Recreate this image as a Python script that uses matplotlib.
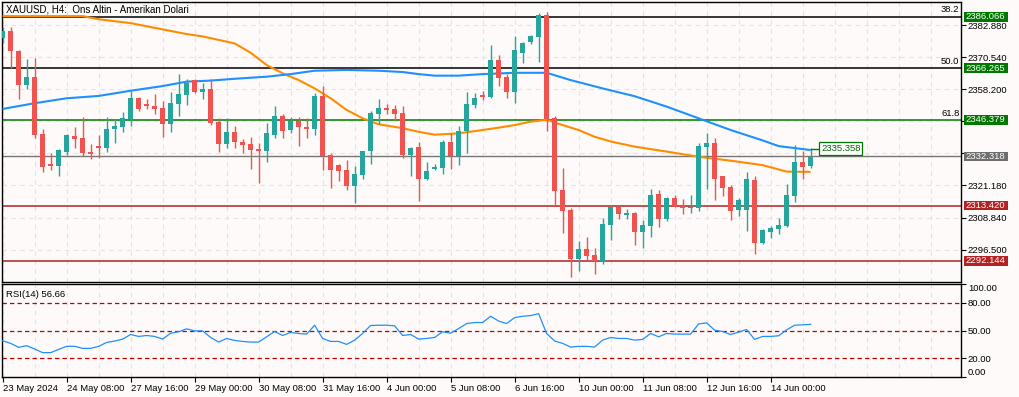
import matplotlib
matplotlib.use("Agg")
import matplotlib.pyplot as plt
from matplotlib.patches import Rectangle
import matplotlib.transforms as mtrans

plt.rcParams['font.family'] = ['Liberation Sans', 'DejaVu Sans']

# ---------------- data ----------------
opens = [2377.7, 2380.5, 2372.8, 2359.7, 2363.0, 2341.0, 2329.3, 2328.8, 2334.2, 2340.2,
         2339.5, 2334.0, 2336.5, 2335.7, 2342.7, 2343.8, 2346.8, 2354.9, 2352.6, 2351.8,
         2351.0, 2344.9, 2352.6, 2356.0, 2361.6, 2357.3, 2358.4, 2345.6, 2337.1, 2341.8,
         2337.9, 2337.1, 2335.2, 2334.4, 2340.6, 2348.0, 2342.5, 2346.1, 2343.8, 2342.9,
         2355.7, 2332.9, 2329.0, 2327.1, 2320.9, 2325.1, 2334.4, 2348.7, 2351.0, 2350.7,
         2349.1, 2332.9, 2336.0, 2323.6, 2327.5, 2327.9, 2337.9, 2332.5, 2342.2, 2352.2,
         2356.0, 2355.3, 2369.6, 2363.0, 2357.2, 2372.3, 2376.2, 2378.1, 2386.6, 2347.2,
         2319.4, 2311.6, 2292.7, 2296.6, 2294.6, 2292.3, 2305.8, 2312.8, 2309.7, 2310.5,
         2303.3, 2305.6, 2317.8, 2308.2, 2316.3, 2313.2, 2312.4, 2312.4, 2336.0, 2337.5,
         2324.8, 2320.5, 2311.6, 2311.6, 2323.2, 2298.9, 2303.1, 2304.3, 2305.4, 2317.0,
         2330.2, 2328.6]
highs = [2382.0, 2382.0, 2373.2, 2369.7, 2370.0, 2342.9, 2333.7, 2335.2, 2341.0, 2343.7,
         2347.5, 2337.0, 2340.6, 2347.6, 2346.8, 2349.6, 2357.6, 2355.2, 2354.3, 2356.4,
         2353.7, 2357.1, 2364.2, 2362.0, 2362.0, 2360.7, 2362.0, 2347.2, 2347.2, 2344.1,
         2339.1, 2339.8, 2337.5, 2345.3, 2351.8, 2348.7, 2347.6, 2347.6, 2347.2, 2356.8,
         2359.5, 2333.7, 2329.4, 2330.9, 2328.6, 2334.6, 2349.9, 2354.5, 2352.6, 2352.2,
         2351.8, 2336.0, 2337.9, 2330.2, 2329.4, 2338.7, 2341.4, 2344.1, 2357.2, 2356.8,
         2357.6, 2375.0, 2371.5, 2364.2, 2378.5, 2376.2, 2379.2, 2387.4, 2387.7, 2347.9,
         2327.9, 2312.4, 2300.0, 2301.2, 2297.3, 2308.5, 2313.0, 2313.3, 2312.0, 2310.8,
         2307.8, 2319.7, 2319.4, 2316.7, 2317.4, 2315.9, 2317.4, 2337.5, 2341.4, 2339.4,
         2325.0, 2321.3, 2316.3, 2326.3, 2324.8, 2304.3, 2305.4, 2308.5, 2321.7, 2336.7,
         2334.4, 2335.4]
lows = [2376.0, 2366.4, 2354.5, 2358.4, 2339.6, 2326.4, 2327.2, 2324.9, 2333.0, 2335.7,
        2332.5, 2331.5, 2331.9, 2334.0, 2337.5, 2341.9, 2344.2, 2350.0, 2350.7, 2348.7,
        2340.0, 2341.9, 2347.7, 2352.3, 2356.8, 2354.3, 2344.5, 2334.2, 2335.7, 2335.7,
        2333.8, 2327.6, 2322.2, 2330.3, 2339.4, 2339.4, 2341.4, 2336.4, 2339.4, 2340.6,
        2327.1, 2320.1, 2322.8, 2319.4, 2314.3, 2323.6, 2329.4, 2344.9, 2348.7, 2346.4,
        2331.9, 2324.9, 2315.1, 2323.2, 2327.1, 2325.5, 2327.5, 2329.0, 2333.7, 2351.0,
        2354.1, 2355.0, 2359.5, 2354.9, 2353.0, 2368.4, 2375.4, 2368.8, 2342.2, 2313.6,
        2302.7, 2286.1, 2288.4, 2292.3, 2287.3, 2291.1, 2300.2, 2308.2, 2308.2, 2298.1,
        2297.3, 2301.2, 2305.1, 2307.4, 2312.8, 2310.1, 2310.5, 2311.2, 2319.7, 2315.5,
        2317.0, 2307.8, 2309.3, 2303.5, 2295.0, 2298.5, 2300.8, 2302.4, 2305.1, 2314.7,
        2323.6, 2327.9]
closes = [2380.5, 2372.8, 2359.9, 2363.0, 2340.6, 2328.4, 2328.8, 2334.7, 2340.4, 2339.2,
          2333.8, 2333.3, 2335.7, 2342.9, 2344.2, 2347.2, 2354.9, 2350.4, 2351.6, 2350.7,
          2344.9, 2353.0, 2356.4, 2360.7, 2357.1, 2358.4, 2345.3, 2337.1, 2341.8, 2338.0,
          2336.9, 2334.9, 2334.5, 2341.4, 2348.0, 2342.2, 2346.1, 2343.7, 2342.9, 2355.7,
          2332.4, 2327.1, 2326.7, 2320.9, 2325.5, 2334.4, 2349.1, 2351.0, 2350.3, 2348.7,
          2332.9, 2335.6, 2323.6, 2326.7, 2328.3, 2337.9, 2332.5, 2342.2, 2352.6, 2354.9,
          2355.3, 2369.6, 2362.6, 2357.2, 2373.1, 2375.8, 2378.5, 2386.6, 2346.8, 2319.0,
          2311.2, 2292.7, 2296.6, 2294.2, 2292.3, 2306.2, 2312.8, 2310.1, 2310.5, 2303.3,
          2305.8, 2317.4, 2308.2, 2316.3, 2313.2, 2312.4, 2312.8, 2336.4, 2337.5, 2323.6,
          2320.1, 2311.2, 2315.5, 2323.6, 2298.9, 2303.9, 2304.7, 2305.8, 2317.4, 2330.2,
          2328.3, 2332.3]

ma_fast_idx = [0, 10, 12, 16, 20, 23, 25, 29, 31, 33, 35, 37, 39, 41, 43, 45, 47, 50, 52, 54,
               57, 60, 62, 64, 66, 68, 70, 72, 74, 76, 79, 83, 87, 91, 95, 98, 101]
ma_fast_val = [2386.3, 2386.3, 2385.1, 2383.6, 2381.2, 2379.4, 2378.5, 2375.8, 2372.2, 2367.5,
               2364.3, 2361.7, 2358.5, 2354.7, 2350.2, 2347.0, 2344.7, 2343.2, 2341.8, 2340.7,
               2341.2, 2342.5, 2343.4, 2344.4, 2345.7, 2346.4, 2344.4, 2342.5, 2339.9, 2338.1,
               2336.1, 2334.2, 2332.2, 2330.7, 2329.0, 2326.5, 2326.4]
ma_slow_idx = [0, 4, 8, 12, 16, 20, 23, 26, 29, 33, 36, 39, 43, 47, 50, 52, 54, 57, 60, 64,
               68, 71, 75, 79, 83, 87, 91, 95, 97, 101]
ma_slow_val = [2350.6, 2352.8, 2354.7, 2355.6, 2357.6, 2359.4, 2361.1, 2361.5, 2362.2, 2363.0,
               2364.0, 2365.3, 2365.6, 2365.3, 2364.8, 2364.0, 2363.4, 2363.4, 2364.0, 2364.5,
               2364.5, 2361.7, 2358.5, 2355.5, 2351.5, 2347.0, 2342.5, 2338.5, 2336.3, 2334.8]

rsi = [38.9, 36.1, 31.8, 33.6, 30.0, 26.1, 26.1, 29.6, 32.9, 32.9,
       30.7, 30.7, 32.9, 37.1, 38.6, 40.7, 45.7, 43.6, 44.6, 43.6,
       40.7, 47.1, 48.6, 51.8, 49.6, 49.6, 42.5, 37.5, 41.4, 39.3,
       38.2, 37.5, 37.5, 43.2, 48.9, 44.6, 47.9, 46.8, 46.1, 55.7,
       41.4, 38.2, 38.2, 35.0, 39.6, 46.8, 55.4, 55.7, 55.7, 55.0,
       44.6, 45.7, 40.7, 41.4, 42.5, 48.6, 47.1, 52.1, 57.5, 58.6,
       58.6, 65.4, 60.2, 57.5, 63.9, 65.4, 66.1, 68.2, 46.8, 38.6,
       36.1, 32.1, 32.9, 32.9, 32.1, 39.6, 42.5, 41.4, 41.4, 39.6,
       40.4, 46.8, 43.2, 46.8, 46.1, 46.1, 46.1, 57.1, 58.2, 50.4,
       48.9, 45.7, 48.2, 51.1, 40.4, 43.6, 43.6, 44.3, 50.7, 55.7,
       56.1, 56.66]

fib_levels = [2386.066, 2366.265, 2346.379]
fib_labels = ["38.2", "50.0", "61.8"]
fib_colors = ['#000000', '#000000', '#007800']
sr_levels = [2313.420, 2292.144]
bid_price = 2332.318
marker_price = 2335.358

price_ticks = [2382.880, 2370.540, 2358.200, 2345.860, 2333.520, 2321.180, 2308.840, 2296.500]
hidden_ticks = [2345.860, 2333.520]   # covered by value boxes in the reference
rsi_ticks = [0, 20, 50, 80, 100]
x_tick_pos = [0, 8, 16, 24, 32, 40, 48, 56, 64, 72, 80, 88, 96]
x_tick_labels = ["23 May 2024", "24 May 08:00", "27 May 16:00", "29 May 00:00", "30 May 08:00",
                 "31 May 16:00", "4 Jun 00:00", "5 Jun 08:00", "6 Jun 16:00", "10 Jun 00:00",
                 "11 Jun 08:00", "12 Jun 16:00", "14 Jun 00:00"]
title = "XAUUSD, H4:  Ons Altin - Amerikan Dolari"
rsi_title = "RSI(14) 56.66"

# ---------------- figure ----------------
W, H = 1019, 397
BG = '#FDFAF9'
fig = plt.figure(figsize=(W / 100, H / 100), dpi=100, facecolor=BG)

def fx(px):
    return px / W

def fy(py):
    return 1 - py / H

left_px, right_px = 2, 961
main_top, main_bot = 2, 282
rsi_top, rsi_bot = 284.2, 376.8

ax = fig.add_axes([fx(left_px), fy(main_bot), fx(right_px - left_px), (main_bot - main_top) / H])
ax2 = fig.add_axes([fx(left_px), fy(rsi_bot), fx(right_px - left_px), (rsi_bot - rsi_top) / H],
                   sharex=ax)
for a in (ax, ax2):
    a.set_facecolor(BG)
    for s in a.spines.values():
        s.set_color('black')
        s.set_linewidth(1.0)

n = len(closes)
xs = list(range(n))
xmin, xmax = -0.08, 119.8
ax.set_xlim(xmin, xmax)
ax.set_ylim(2284.04, 2391.73)
ax2.set_ylim(0, 100)

# grid
grid_kw = dict(color='#E6E2E2', lw=0.8, ls=(0, (4, 4)), zorder=0)
for g in range(0, 120, 4):
    ax.axvline(g, **grid_kw)
    ax2.axvline(g, **grid_kw)
for p in price_ticks:
    ax.axhline(p, **grid_kw)

# horizontal levels
for lvl, lab, col in zip(fib_levels, fib_labels, fib_colors):
    ax.axhline(lvl, color=col, lw=1.1, zorder=2)
    ax.text(119.6, lvl + 0.9, lab, ha='right', va='bottom', fontsize=6.8, color='black', zorder=6)
for lvl in sr_levels:
    ax.axhline(lvl, color='#B22222', lw=1.1, zorder=2)
ax.axhline(bid_price, color='#777777', lw=1.0, zorder=2)

# moving averages
ax.plot(ma_fast_idx, ma_fast_val, color='#FF8C00', lw=1.5, zorder=3, solid_capstyle='butt')
ax.plot(ma_slow_idx, ma_slow_val, color='#1E90FF', lw=1.5, zorder=3, solid_capstyle='butt')

# candles
up_c, dn_c = '#26A69A', '#EF5350'
for i in xs:
    o, h, l, c = opens[i], highs[i], lows[i], closes[i]
    col = up_c if c >= o else dn_c
    ax.vlines(i, l, h, color=col, lw=1.0, zorder=4)
    bot = min(o, c)
    hgt = max(abs(c - o), 0.45)
    ax.bar(i, hgt, bottom=bot, width=0.64, color=col, edgecolor=col, lw=0, zorder=5)

# marker price label
ax.plot([n - 1, n + 0.15], [marker_price, marker_price], color='#007800', lw=1.0, zorder=6)
ax.text(n + 0.3, marker_price, "2335.358", ha='left', va='center', fontsize=6.8,
        color='#006400', zorder=7,
        bbox=dict(boxstyle='square,pad=0.2', fc='white', ec='#007800', lw=0.9))

# right axis ticks
ax.yaxis.tick_right()
ax.set_yticks(price_ticks)
ax.set_yticklabels(["" if p in hidden_ticks else f"{p:.3f}" for p in price_ticks])
ax.tick_params(axis='y', which='both', length=3.5, width=0.8, pad=1.5, labelsize=6.8,
               colors='black')
ax.tick_params(axis='x', which='both', bottom=False, labelbottom=False)

# right-side value boxes
trans = mtrans.blended_transform_factory(ax.transAxes, ax.transData)
box_w = 44 / (right_px - left_px)
box_h = 9.6 / 2.6
def value_box(price, fc, txt):
    r = Rectangle((1 + 2.5 / 959, price - box_h / 2), box_w, box_h, transform=trans,
                  facecolor=fc, edgecolor='none', clip_on=False, zorder=20)
    ax.add_patch(r)
    ax.text(1 + 2.5 / 959 + box_w / 2, price, txt, transform=trans, ha='center', va='center',
            fontsize=6.8, color='white', clip_on=False, zorder=21)

for lvl in fib_levels:
    value_box(lvl, '#007800', f"{lvl:.3f}")
value_box(bid_price, '#6E6E6E', f"{bid_price:.3f}")
for lvl in sr_levels:
    value_box(lvl, '#B22222', f"{lvl:.3f}")

# title
ax.text(4 / 959, 1 - 7 / 280, title, transform=ax.transAxes, ha='left', va='center',
        fontsize=7, color='black', zorder=8)

# ---------------- RSI ----------------
for lv in (20, 50, 80):
    ax2.axhline(lv, color='#C00000', lw=0.9, ls=(0, (3.5, 2.5)), zorder=2)
ax2.plot(xs, rsi, color='#1E90FF', lw=0.9, zorder=3)
ax2.text(4 / 959, 1 - 10 / 92.6, rsi_title, transform=ax2.transAxes, ha='left', va='center',
         fontsize=6.8, color='black')
ax2.yaxis.tick_right()
ax2.set_yticks(rsi_ticks)
ax2.set_yticklabels([f"{v:.2f}" for v in rsi_ticks])
ax2.tick_params(axis='y', length=3.5, width=0.8, pad=1.5, labelsize=6.8, colors='black')
yt = ax2.yaxis.get_major_ticks()
yt[0].label2.set_va('bottom')
yt[-1].label2.set_va('top')

ax2.set_xticks(x_tick_pos)
ax2.set_xticklabels(x_tick_labels)
ax2.tick_params(axis='x', length=3.5, width=0.8, pad=1.5, labelsize=6.8, colors='black')
for lbl in ax2.get_xticklabels():
    lbl.set_ha('left')

fig.savefig("out.png", dpi=100, facecolor=BG)
